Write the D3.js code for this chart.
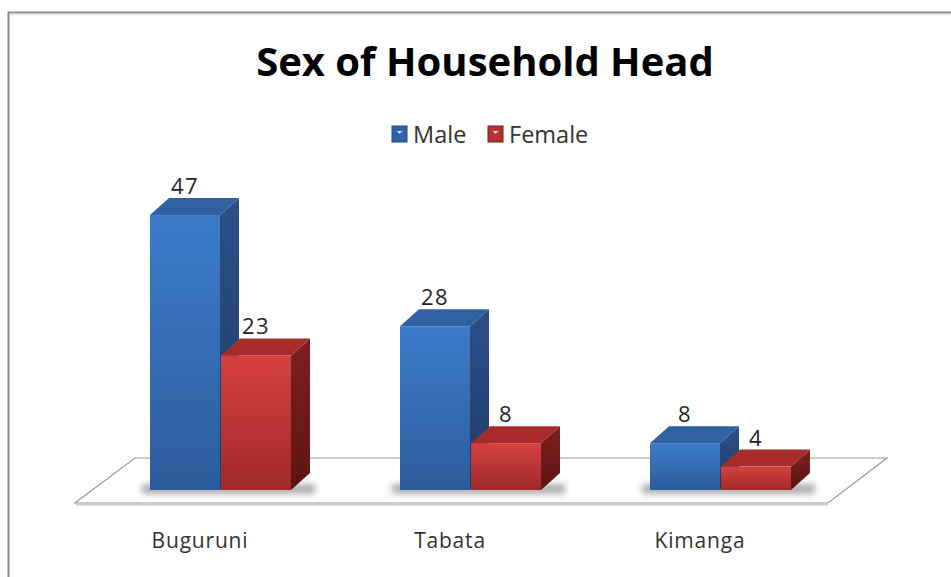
<!DOCTYPE html>
<html>
<head>
<meta charset="utf-8">
<script src="https://cdn.jsdelivr.net/npm/d3@7"></script>
<style>
body { margin: 0; background: #fff; }
svg { display: block; font-family: 'Open Sans', sans-serif; }
</style>
</head>
<body>
<div id="chart"></div>
<script>
var categories = ['Buguruni', 'Tabata', 'Kimanga'];
var series = ['Male', 'Female'];
var maleValues = [47, 28, 8];
var femaleValues = [23, 8, 4];

var width = 951, height = 577;
var depth_x = 19, depth_y = -17;

var svg = d3.select('#chart')
	.append('svg')
	.attr('width', width)
	.attr('height', height);

var defs = svg.append('defs');

function gradient(id, stops) {
	var g = defs.append('linearGradient')
		.attr('id', id)
		.attr('x1', 0).attr('y1', 0)
		.attr('x2', 0).attr('y2', 1);
	stops.forEach(function(s) {
		g.append('stop').attr('offset', s[0]).attr('stop-color', s[1]);
	});
}

gradient('maleFront', [[0, '#3d7ccb'], [1, '#2c5c9b']]);
gradient('maleSide', [[0, '#2b5087'], [1, '#1f3c68']]);
gradient('femaleFront', [[0, '#d54040'], [1, '#a0292a']]);
gradient('femaleSide', [[0, '#7f2020'], [1, '#5c1414']]);

defs.append('filter')
	.attr('id', 'blur')
	.attr('x', '-20%').attr('y', '-100%')
	.attr('width', '140%').attr('height', '300%')
	.append('feGaussianBlur')
	.attr('stdDeviation', 3);

var colors = {
	'Male': { front: 'url(#maleFront)', side: 'url(#maleSide)', top: '#2f61a3', legend: '#2f63a8' },
	'Female': { front: 'url(#femaleFront)', side: 'url(#femaleSide)', top: '#a82b2b', legend: '#b83030' }
};

// chart frame
svg.append('rect')
	.attr('x', 8.5).attr('y', 12.5)
	.attr('width', 1000).attr('height', 700)
	.attr('fill', 'none')
	.attr('stroke', '#8a8a8a')
	.attr('stroke-width', 2);
svg.append('line')
	.attr('x1', 10).attr('x2', width).attr('y1', 14.5).attr('y2', 14.5)
	.attr('stroke', '#e2e2e2').attr('stroke-width', 1.5);

svg.append('text')
	.attr('x', 485).attr('y', 76)
	.attr('text-anchor', 'middle')
	.style('font-size', '40px')
	.style('font-weight', 'bold')
	.attr('fill', '#000')
	.text('Sex of Household Head');

// legend
var legend = svg.append('g');
var legend_x = [392, 488];
series.forEach(function(s, i) {
	legend.append('rect')
		.attr('x', legend_x[i]).attr('y', 126)
		.attr('width', 15).attr('height', 16)
		.attr('fill', colors[s].legend)
		.attr('stroke', s == 'Male' ? '#24487a' : '#7a1d1d');
	legend.append('path')
		.attr('d', 'M' + (legend_x[i] + 4.5) + ',131h6l-3,3z')
		.attr('fill', '#fff').attr('opacity', 0.8);
	legend.append('text')
		.attr('x', legend_x[i] + 21).attr('y', 143)
		.style('font-size', '23.5px')
		.attr('fill', '#333')
		.text(s);
});

var x = d3.scaleBand()
	.domain(categories)
	.range([75, 825]);

var xSub = d3.scaleBand()
	.domain(series)
	.range([0, 142]);

var y = d3.scaleLinear()
	.domain([0, 50])
	.range([490, 197.5]);

// floor
svg.append('path')
	.attr('d', 'M75,503L828,503L887,458L135,458Z')
	.attr('fill', '#fff')
	.attr('stroke', '#9a9a9a')
	.attr('stroke-width', 1.2);
svg.append('line')
	.attr('x1', 76).attr('x2', 828).attr('y1', 504.5).attr('y2', 504.5)
	.attr('stroke', '#c8c8c8').attr('stroke-width', 2);

var data = [];
categories.forEach(function(c, i) {
	data.push({ category: c, series: 'Male', value: maleValues[i] });
	data.push({ category: c, series: 'Female', value: femaleValues[i] });
});

// shadows
categories.forEach(function(c) {
	var left = x(c) + x.bandwidth() / 2 - 50;
	svg.append('rect')
		.attr('x', left - 8)
		.attr('y', 484)
		.attr('width', 142 + depth_x + 12)
		.attr('height', 10)
		.attr('fill', '#8c8c8c')
		.attr('opacity', 0.7)
		.attr('filter', 'url(#blur)');
});

var bars = svg.selectAll('g.bar')
	.data(data)
	.enter()
	.append('g')
	.attr('class', 'bar');

function barLeft(d) {
	return x(d.category) + x.bandwidth() / 2 - 50 + xSub(d.series);
}

var bar_w = xSub.bandwidth() - 1;

bars.each(function(d) {
	var g = d3.select(this);
	var x0 = barLeft(d), x1 = x0 + bar_w;
	var top = y(d.value), bottom = y(0);
	var c = colors[d.series];

	// side face
	g.append('path')
		.attr('d', 'M' + x1 + ',' + top +
			'L' + (x1 + depth_x) + ',' + (top + depth_y) +
			'L' + (x1 + depth_x) + ',' + (bottom + depth_y) +
			'L' + x1 + ',' + bottom + 'Z')
		.attr('fill', c.side);
	// top face
	g.append('path')
		.attr('d', 'M' + x0 + ',' + top +
			'L' + (x0 + depth_x) + ',' + (top + depth_y) +
			'L' + (x1 + depth_x) + ',' + (top + depth_y) +
			'L' + x1 + ',' + top + 'Z')
		.attr('fill', c.top);
	// front face
	g.append('rect')
		.attr('x', x0).attr('y', top)
		.attr('width', bar_w).attr('height', bottom - top)
		.attr('fill', c.front);
});

bars.append('text')
	.attr('x', function(d) { return barLeft(d) + bar_w / 2; })
	.attr('y', function(d) { return y(d.value) + depth_y - 4; })
	.attr('text-anchor', 'middle')
	.style('font-size', '22px')
	.style('letter-spacing', '1.5px')
	.attr('fill', '#262626')
	.text(function(d) { return d.value; });

// category labels
svg.selectAll('text.cat')
	.data(categories)
	.enter()
	.append('text')
	.attr('class', 'cat')
	.attr('x', function(d) { return x(d) + x.bandwidth() / 2; })
	.attr('y', 548)
	.attr('text-anchor', 'middle')
	.style('font-size', '21px')
	.style('letter-spacing', '0.8px')
	.attr('fill', '#333')
	.text(function(d) { return d; });
</script>
</body>
</html>
